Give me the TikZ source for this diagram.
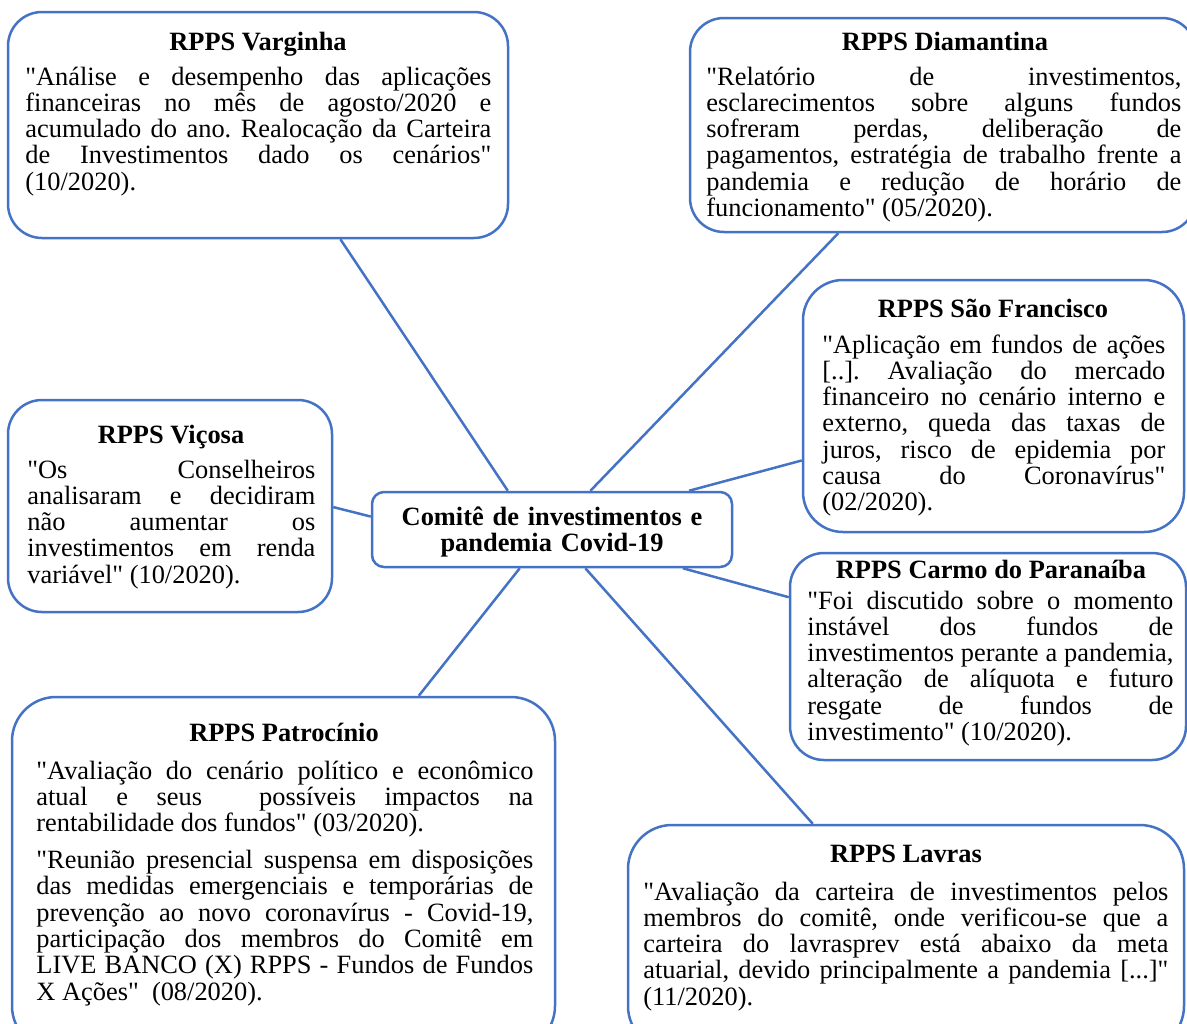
\documentclass[tikz,border=0pt]{standalone}
\usepackage{fontspec}
\setmainfont{Liberation Serif}
\usetikzlibrary{fit,calc}
\definecolor{edgeblue}{RGB}{68,114,196}
\newcommand{\bodysize}{\fontsize{13.2}{13.15}\selectfont\frenchspacing}
\newcommand{\qt}{\textquotedbl}
\begin{document}
\begin{tikzpicture}[x=0.5pt,y=-0.5pt,
  card/.style={draw=edgeblue, line width=1.25pt, inner sep=0pt, rounded corners=#1},
  card/.default=17pt,
  link/.style={draw=edgeblue, line width=1.25pt},
  head/.style={anchor=base, inner sep=0pt, font=\bfseries\bodysize},
  body/.style={anchor=base west, inner sep=0pt, align=justify, text width=#1, font=\bodysize},
]
\useasboundingbox (0,0) rectangle (1187,1023);
\clip (0,0) rectangle (1187,1023);

% outlines of the cards
\node[card, fit={(8,12)(508,238)}] (varg) {};
\node[card, fit={(690,18)(1196,232)}] (diam) {};
\node[card=20pt, fit={(803,280)(1184,532)}] (saof) {};
\node[card, fit={(8,400)(332,612)}] (vico) {};
\node[card=6pt, fit={(372,492)(732,567)}] (hub) {};
\node[card, fit={(790,553)(1186,760)}] (carmo) {};
\node[card=22pt, fit={(12,697)(555,1050)}] (patro) {};
\node[card=22pt, fit={(628,825)(1184,1050)}] (lavras) {};

% connectors from the hub to every card
\draw[link] ($(varg.south west)!0.664!(varg.south east)$) -- ($(hub.north west)!0.378!(hub.north east)$);
\draw[link] ($(diam.south west)!0.294!(diam.south east)$) -- ($(hub.north west)!0.606!(hub.north east)$);
\draw[link] ($(saof.north west)!0.714!(saof.south west)$) -- ($(hub.north west)!0.878!(hub.north east)$);
\draw[link] ($(vico.north east)!0.505!(vico.south east)$) -- ($(hub.north west)!0.333!(hub.south west)$);
\draw[link] ($(carmo.north west)!0.217!(carmo.south west)$) -- ($(hub.south west)!0.861!(hub.south east)$);
\draw[link] ($(lavras.north west)!0.333!(lavras.north east)$) -- ($(hub.south west)!0.592!(hub.south east)$);
\draw[link] ($(patro.north west)!0.748!(patro.north east)$) -- ($(hub.south west)!0.411!(hub.south east)$);

% central topic
\node[anchor=base, inner sep=0pt, align=center, text width=180pt, font=\bfseries\bodysize] (hub-t) at (552,525)
  {Comitê de investimentos e\\pandemia Covid-19};

% Varginha
\node[head] (varg-t) at (258,50) {RPPS Varginha};
\node[body=233pt] (varg-b) at (25,85)
  {\qt Análise e desempenho das aplicações\linebreak
   financeiras no mês de agosto/2020 e\linebreak
   acumulado do ano. Realocação da Carteira\linebreak
   de Investimentos dado os cenários\qt\linebreak
   (10/2020).};

% Diamantina
\node[head] (diam-t) at (945,50) {RPPS Diamantina};
\node[body=237.5pt] (diam-b) at (706,85)
  {\qt Relatório de investimentos,\linebreak
   esclarecimentos sobre alguns fundos\linebreak
   sofreram perdas, deliberação de\linebreak
   pagamentos, estratégia de trabalho frente a\linebreak
   pandemia e redução de horário de\linebreak
   funcionamento\qt{} (05/2020).};

% Sao Francisco
\node[head] (saof-t) at (993,317) {RPPS São Francisco};
\node[body=171.5pt] (saof-b) at (822,353)
  {\qt Aplicação em fundos de ações\linebreak
   {[}..]. Avaliação do mercado\linebreak
   financeiro no cenário interno e\linebreak
   externo, queda das taxas de\linebreak
   juros, risco de epidemia por\linebreak
   causa do Coronavírus\qt\linebreak
   (02/2020).};

% Vicosa
\node[head] (vico-t) at (171,443) {RPPS Viçosa};
\node[body=144pt] (vico-b) at (27,478)
  {\qt Os Conselheiros\linebreak
   analisaram e decidiram\linebreak
   não aumentar os\linebreak
   investimentos em renda\linebreak
   variável\qt{} (10/2020).};

% Carmo do Paranaiba
\node[head] (carmo-t) at (991,578) {RPPS Carmo do Paranaíba};
\node[body=183pt] (carmo-b) at (807,609)
  {\qt Foi discutido sobre o momento\linebreak
   instável dos fundos de\linebreak
   investimentos perante a pandemia,\linebreak
   alteração de alíquota e futuro\linebreak
   resgate de fundos de\linebreak
   investimento\qt{} (10/2020).};

% Patrocinio
\node[head] (patro-t) at (284,741) {RPPS Patrocínio};
\node[body=248.5pt] (patro-b) at (36,779)
  {\qt Avaliação do cenário político e econômico\linebreak
   atual e seus \ possíveis impactos na\linebreak
   rentabilidade dos fundos\qt{} (03/2020).\par\vspace{5.3pt}
   \qt Reunião presencial suspensa em disposições\linebreak
   das medidas emergenciais e temporárias de\linebreak
   prevenção ao novo coronavírus - Covid-19,\linebreak
   participação dos membros do Comitê em\linebreak
   LIVE BANCO (X) RPPS - Fundos de Fundos\linebreak
   X Ações\qt{} \ (08/2020).};

% Lavras
\node[head] (lavras-t) at (906,862) {RPPS Lavras};
\node[body=262.5pt] (lavras-b) at (643,900)
  {\qt Avaliação da carteira de investimentos pelos\linebreak
   membros do comitê, onde verificou-se que a\linebreak
   carteira do lavrasprev está abaixo da meta\linebreak
   atuarial, devido principalmente a pandemia {[}...]\qt\linebreak
   (11/2020).};
\end{tikzpicture}
\end{document}
